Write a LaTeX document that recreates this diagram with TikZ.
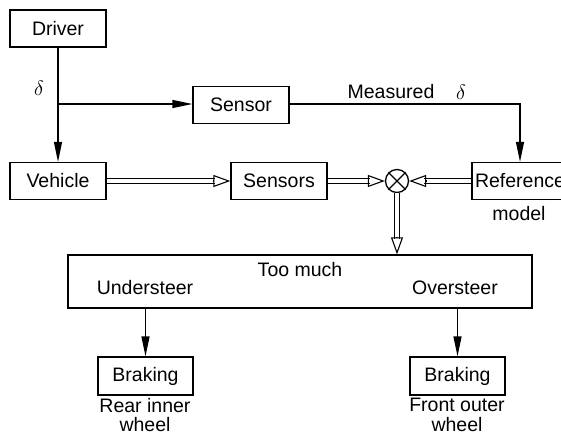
\documentclass[tikz,border=0pt]{standalone}
\usepackage{fontspec}
\setmainfont{Liberation Sans}
\usetikzlibrary{arrows.meta}
\begin{document}
\begin{tikzpicture}[x=1pt,y=-1pt,line width=1.3pt,
  font=\fontsize{19.5}{21}\selectfont,
  blk/.style={draw,minimum width=96pt,minimum height=37pt,inner sep=0pt},
  txt/.style={inner sep=0pt,align=center},
  arr/.style={-{Triangle[length=20pt,width=8pt]}},
  dbl/.style={double,double distance=4pt,line width=1.1pt,shorten >=15pt},
  tip/.style={-{Triangle[open,length=17pt,width=12pt]},line width=1.1pt}]
\useasboundingbox (0,0) rectangle (561,437);

\node[blk] (driver) at (58,28.5) {Driver};
\node[blk] (sensor) at (241,105) {Sensor};
\node[blk] (vehicle) at (58,181) {Vehicle};
\node[blk] (sensors) at (279,181) {Sensors};
\node[blk] (ref) at (520,181) {Reference};
\node[draw,circle,minimum size=23pt,inner sep=0pt] (sum) at (397,181) {};
\draw (sum.north west) -- (sum.south east);
\draw (sum.north east) -- (sum.south west);
\node[draw,minimum width=464pt,minimum height=53pt] (steer) at (300,281.5) {};
\node[blk,minimum width=95pt,minimum height=38pt] (brakeR) at (145.5,376) {Braking};
\node[blk,minimum width=95pt,minimum height=38pt] (brakeF) at (457.5,376) {Braking};

\node[txt] (delta) at (39,88) {$\delta$};
\node[txt] (meas) at (391,92) {Measured};
\node[txt] (mdelta) at (461,92) {$\delta$};
\node[txt] (model) at (519,214) {model};
\node[txt] (much) at (300,270) {Too much};
\node[txt] (under) at (145,288) {Understeer};
\node[txt] (over) at (455,288) {Oversteer};
\node[txt,font=\fontsize{19.5}{19.5}\selectfont] (rear) at (145,415) {Rear inner\\wheel};
\node[txt,font=\fontsize{19.5}{19.5}\selectfont] (front) at (457,415) {Front outer\\wheel};

\coordinate (split) at (58,104);
\draw[arr] (driver) -- (vehicle);
\draw[arr] (split) -- (sensor.west |- split);
\draw[arr] (sensor.east |- split) -| (ref.north);

% double arrows
\draw[dbl] (vehicle) -- (sensors);
\draw[tip] ([xshift=-17pt]sensors.west) -- (sensors.west);
\draw[dbl] (sensors) -- (sum);
\draw[tip] ([xshift=-17pt]sum.west) -- (sum.west);
\draw[dbl] (ref) -- (sum);
\draw[tip] ([xshift=17pt]sum.east) -- (sum.east);
\draw[dbl] (sum) -- (sum |- steer.north);
\draw[tip] ([yshift=17pt]sum |- steer.north) -- (sum |- steer.north);

\draw[arr] (brakeR.north |- steer.south) -- (brakeR.north);
\draw[arr] (brakeF.north |- steer.south) -- (brakeF.north);
\end{tikzpicture}
\end{document}
